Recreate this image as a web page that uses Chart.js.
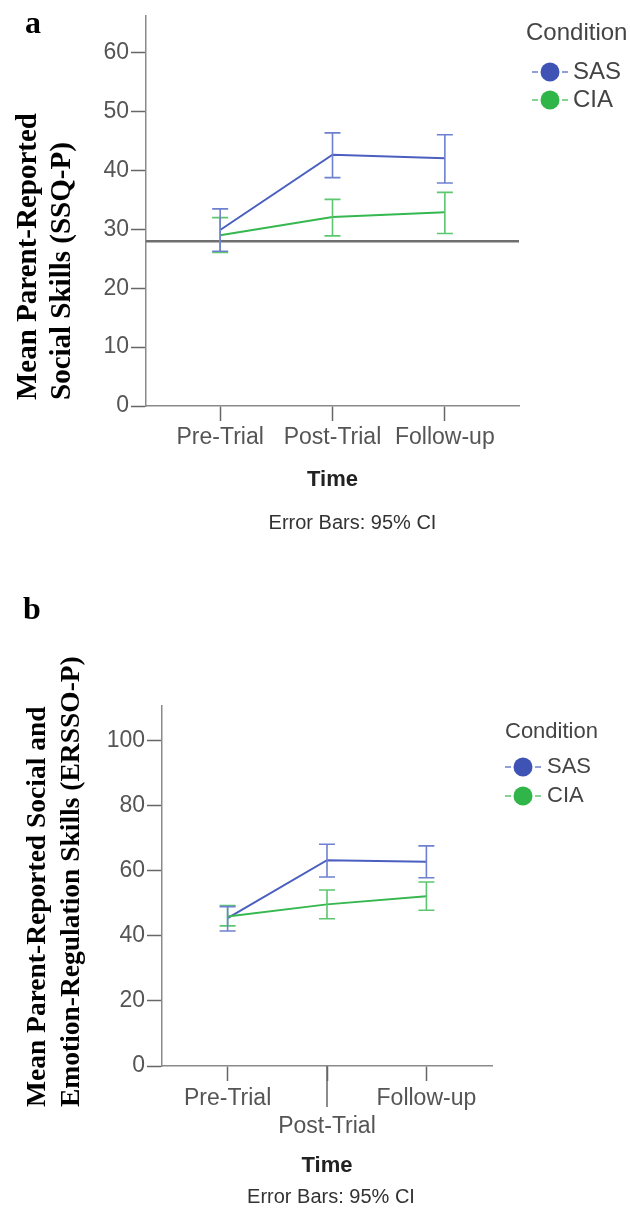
<!DOCTYPE html>
<html>
<head>
<meta charset="utf-8">
<script src="https://cdn.jsdelivr.net/npm/chart.js@4.4.1/dist/chart.umd.min.js"></script>
<style>
  body { margin: 0; background: #fff; width: 630px; height: 1214px; position: relative; overflow: hidden; }
  .panel { position: absolute; left: 0; }
  .letter { position: absolute; font: bold 32px "Liberation Serif", "Times New Roman", serif; color: #000; line-height: 1; }
</style>
</head>
<body>
<div class="panel" style="top:0"><canvas id="chartA" width="630" height="560"></canvas></div>
<div class="panel" style="top:580px"><canvas id="chartB" width="630" height="634"></canvas></div>
<div class="letter" style="left:25px;top:6px">a</div>
<div class="letter" style="left:23px;top:592px">b</div>
<script>
// time points and labels (shared)
var timePoints = [0, 1, 2];
var timeLabels = ["Pre-Trial", "Post-Trial", "Follow-up"];

// panel a: SSQ-P, means and 95% CI
var ssqSasMean = [29.9, 42.7, 42.1];
var ssqSasLow  = [26.3, 38.8, 37.9];
var ssqSasHigh = [33.5, 46.4, 46.1];
var ssqCiaMean = [29.0, 32.1, 32.9];
var ssqCiaLow  = [26.1, 28.9, 29.3];
var ssqCiaHigh = [32.0, 35.1, 36.3];
var ssqCutoff = 28;
var ssqTicks = [0, 10, 20, 30, 40, 50, 60];

// panel b: ERSSQ-P, means and 95% CI
var erssoSasMean = [45.5, 63.3, 62.8];
var erssoSasLow  = [41.5, 58.1, 57.9];
var erssoSasHigh = [49.0, 68.2, 67.7];
var erssoCiaMean = [46.0, 49.7, 52.2];
var erssoCiaLow  = [43.1, 45.3, 47.9];
var erssoCiaHigh = [49.3, 54.1, 56.6];
var erssoTicks = [0, 20, 40, 60, 80, 100];

var SANS = '"Liberation Sans", Arial, sans-serif';
var SERIF = '"Liberation Serif", "Times New Roman", serif';
Chart.defaults.font.family = SANS;

function points(vals) {
  return vals.map(function(v, i) { return {x: timePoints[i], y: v}; });
}

function sets(sasMean, sasLow, sasHigh, ciaMean, ciaLow, ciaHigh) {
  return [
    {label: "SAS", data: points(sasMean), low: sasLow, high: sasHigh,
     borderColor: "#4a5fbf", markColor: "#3e53b3", barColor: "#6e80cf", order: 1},
    {label: "CIA", data: points(ciaMean), low: ciaLow, high: ciaHigh,
     borderColor: "#35b84f", markColor: "#2fb548", barColor: "#5cc76f", order: 0}
  ];
}

var errorBars = {
  id: "errorBars",
  afterDatasetsDraw: function(chart) {
    var ctx = chart.ctx, xs = chart.scales.x, ys = chart.scales.y;
    chart.data.datasets.slice().reverse().forEach(function(ds) {
      ctx.save();
      ctx.strokeStyle = ds.barColor;
      ctx.lineWidth = 1.6;
      for (var i = 0; i < ds.low.length; i++) {
        var px = xs.getPixelForValue(timePoints[i]);
        var top = ys.getPixelForValue(ds.high[i]);
        var bot = ys.getPixelForValue(ds.low[i]);
        ctx.beginPath();
        ctx.moveTo(px, top); ctx.lineTo(px, bot);
        ctx.moveTo(px - 8, top); ctx.lineTo(px + 8, top);
        ctx.moveTo(px - 8, bot); ctx.lineTo(px + 8, bot);
        ctx.stroke();
      }
      ctx.restore();
    });
  }
};

var refLine = {
  id: "refLine",
  beforeDatasetsDraw: function(chart, args, opts) {
    if (opts.value == null) return;
    var ctx = chart.ctx, a = chart.chartArea;
    var py = chart.scales.y.getPixelForValue(opts.value);
    ctx.save();
    ctx.strokeStyle = "#6f6f6f";
    ctx.lineWidth = 2.5;
    ctx.beginPath(); ctx.moveTo(a.left, py); ctx.lineTo(a.right, py); ctx.stroke();
    ctx.restore();
  }
};

// longer tick mark under one category (panel b)
var longTick = {
  id: "longTick",
  afterDraw: function(chart, args, opts) {
    if (opts.index == null) return;
    var ctx = chart.ctx, xs = chart.scales.x;
    var px = xs.getPixelForValue(timePoints[opts.index]);
    ctx.save();
    ctx.strokeStyle = "#666"; ctx.lineWidth = 1.5;
    ctx.beginPath(); ctx.moveTo(px, xs.top); ctx.lineTo(px, xs.top + opts.length); ctx.stroke();
    ctx.restore();
  }
};

var sideLegend = {
  id: "sideLegend",
  afterDraw: function(chart, args, opts) {
    var ctx = chart.ctx;
    ctx.save();
    ctx.font = opts.size + "px " + SANS;
    ctx.textBaseline = "middle"; ctx.textAlign = "left";
    ctx.fillStyle = "#444";
    ctx.fillText("Condition", opts.x, opts.y);
    chart.data.datasets.forEach(function(ds, i) {
      var cx = opts.x + opts.dx, cy = opts.y + opts.first + i * opts.gap;
      ctx.strokeStyle = ds.barColor; ctx.lineWidth = 1.5;
      ctx.beginPath();
      ctx.moveTo(cx - 18, cy); ctx.lineTo(cx - 12, cy);
      ctx.moveTo(cx + 12, cy); ctx.lineTo(cx + 18, cy);
      ctx.stroke();
      ctx.fillStyle = ds.markColor;
      ctx.beginPath(); ctx.arc(cx, cy, 9.5, 0, Math.PI * 2); ctx.fill();
      ctx.fillStyle = "#444";
      ctx.fillText(ds.label, cx + opts.textGap, cy);
    });
    ctx.restore();
  }
};

var panelText = {
  id: "panelText",
  afterDraw: function(chart, args, opts) {
    var ctx = chart.ctx, a = chart.chartArea;
    ctx.save();
    ctx.font = "bold " + opts.titleSize + "px " + SERIF;
    ctx.fillStyle = "#000"; ctx.textBaseline = "middle"; ctx.textAlign = "left";
    opts.yTitle.forEach(function(line, i) {
      ctx.save();
      ctx.translate(opts.titleX[i], a.bottom - opts.titleLift);
      ctx.rotate(-Math.PI / 2);
      ctx.fillText(line, 0, 0);
      ctx.restore();
    });
    ctx.font = "20px " + SANS;
    ctx.fillStyle = "#333"; ctx.textAlign = "center";
    ctx.fillText("Error Bars: 95% CI", (a.left + a.right) / 2 + opts.noteDx, a.bottom + opts.noteDy);
    ctx.restore();
  }
};

function xAxis(height, pad, titleBottom, stagger) {
  return {
    type: "linear", min: -0.66, max: 2.66,
    afterBuildTicks: function(s) { s.ticks = timePoints.map(function(v) { return {value: v}; }); },
    afterFit: function(s) { s.height = height; },
    ticks: {
      autoSkip: false, maxRotation: 0, minRotation: 0, padding: pad,
      color: "#555", font: {size: 23},
      callback: function(v) {
        var t = timeLabels[v];
        return (stagger && v === 1) ? ["", t] : t;
      }
    },
    grid: {drawOnChartArea: false, tickLength: 15, tickColor: "#666", tickWidth: 1.5},
    border: {color: "#8a8a8a", width: 1.5},
    title: {display: true, text: "Time", color: "#222", font: {size: 22, weight: "bold"},
            padding: {top: 0, bottom: titleBottom}}
  };
}

function yAxis(max, tickVals, width) {
  return {
    min: 0, max: max,
    afterBuildTicks: function(s) { s.ticks = tickVals.map(function(v) { return {value: v}; }); },
    afterFit: function(s) { s.width = width; },
    ticks: {padding: 2, color: "#555", font: {size: 23}},
    grid: {drawOnChartArea: false, tickLength: 15, tickColor: "#666", tickWidth: 1.5},
    border: {color: "#8a8a8a", width: 1.5}
  };
}

function lineOpts() {
  return {borderWidth: 2, pointRadius: 0, tension: 0, fill: false};
}

new Chart(document.getElementById("chartA"), {
  type: "line",
  data: {datasets: sets(ssqSasMean, ssqSasLow, ssqSasHigh, ssqCiaMean, ssqCiaLow, ssqCiaHigh)},
  options: {
    responsive: false, animation: false,
    layout: {padding: {top: 15, right: 111, left: 0, bottom: 0}},
    elements: {line: lineOpts(), point: {radius: 0}},
    scales: {x: xAxis(154, 3, 67, false), y: yAxis(66.3, ssqTicks, 146)},
    plugins: {
      legend: {display: false}, tooltip: {enabled: false},
      refLine: {value: ssqCutoff},
      longTick: {},
      sideLegend: {x: 526, y: 33, dx: 24, first: 39, gap: 28, size: 24, textGap: 23},
      panelText: {yTitle: ["Mean Parent-Reported", "Social Skills (SSQ-P)"], titleSize: 29,
                  titleX: [29, 63], titleLift: 6, noteDx: 20, noteDy: 117}
    }
  },
  plugins: [refLine, errorBars, longTick, sideLegend, panelText]
});

new Chart(document.getElementById("chartB"), {
  type: "line",
  data: {datasets: sets(erssoSasMean, erssoSasLow, erssoSasHigh, erssoCiaMean, erssoCiaLow, erssoCiaHigh)},
  options: {
    responsive: false, animation: false,
    layout: {padding: {top: 126, right: 138, left: 0, bottom: 0}},
    elements: {line: lineOpts(), point: {radius: 0}},
    scales: {x: xAxis(148, 4, 35, true), y: yAxis(110.7, erssoTicks, 162)},
    plugins: {
      legend: {display: false}, tooltip: {enabled: false},
      refLine: {},
      longTick: {index: 1, length: 41},
      sideLegend: {x: 505, y: 152, dx: 18, first: 35, gap: 29, size: 22, textGap: 24},
      panelText: {yTitle: ["Mean Parent-Reported Social and", "Emotion-Regulation Skills (ERSSO-P)"],
                  titleSize: 27.5, titleX: [38, 72], titleLift: -41, noteDx: 4, noteDy: 131}
    }
  },
  plugins: [refLine, errorBars, longTick, sideLegend, panelText]
});
</script>
</body>
</html>
